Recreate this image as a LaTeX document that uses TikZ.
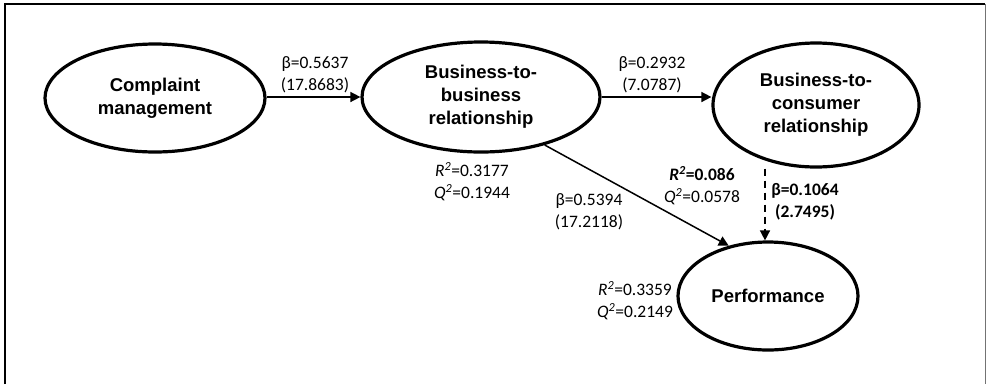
\documentclass[tikz,border=0pt]{standalone}
\usepackage{fontspec}
\setmainfont{Carlito}
\newfontfamily\arialf{Liberation Sans}
\usetikzlibrary{shapes.geometric,arrows.meta}
\newcommand{\sqR}{\textit{R}\textsuperscript{\textit{2}}}
\newcommand{\sqQ}{\textit{Q}\textsuperscript{\textit{2}}}
\begin{document}
\begin{tikzpicture}[x=1pt,y=-1pt,
  latent/.style={draw,ellipse,line width=3.2pt,inner sep=0pt,align=center,font=\arialf\bfseries\fontsize{18.5}{23}\selectfont},
  lbl/.style={align=center,inner sep=0pt,font=\fontsize{17.5}{22}\selectfont},
  conn/.style={line width=1.5pt,-{Triangle[length=10pt,width=10pt]}}]
\useasboundingbox (0,0) rectangle (987,384);
\draw[line width=1.5pt] (5,384) -- (5,4) -- (985,4);
\draw[line width=1pt,black!55] (985,4) -- (985,384);
\node[latent,minimum width=220pt,minimum height=108pt] (cm) at (155,98) {Complaint\\management};
\node[latent,minimum width=238pt,minimum height=110pt] (bb) at (481,97) {Business-to-\\business\\relationship};
\node[latent,minimum width=206pt,minimum height=124pt] (bc) at (816,105) {Business-to-\\consumer\\relationship};
\node[latent,minimum width=180pt,minimum height=108pt] (pf) at (768,296) {Performance};
\draw[conn] (cm.east |- 0,97) -- (bb.west |- 0,97);
\draw[conn] (bb.east |- 0,97) -- (bc.west |- 0,97);
\draw[conn] (bb.-37) -- (pf.128);
\draw[conn,dash pattern=on 7pt off 5pt] (bc.south -| 765,0) -- (pf.north -| 765,0);
\node[lbl] (l1) at (315,75) {β=0.5637\\(17.8683)};
\node[lbl] (l2) at (652,75) {β=0.2932\\(7.0787)};
\node[lbl] (l3) at (472,182) {\sqR=0.3177\\\sqQ=0.1944};
\node[lbl] (l4) at (589,212) {β=0.5394\\(17.2118)};
\node[lbl] (l5) at (702,186) {\textbf{\sqR=0.086}\\\sqQ=0.0578};
\node[lbl,font=\bfseries\fontsize{17.5}{22}\selectfont] (l6) at (805,202) {β=0.1064\\(2.7495)};
\node[lbl] (l7) at (635,301) {\sqR=0.3359\\\sqQ=0.2149};
\end{tikzpicture}
\end{document}
